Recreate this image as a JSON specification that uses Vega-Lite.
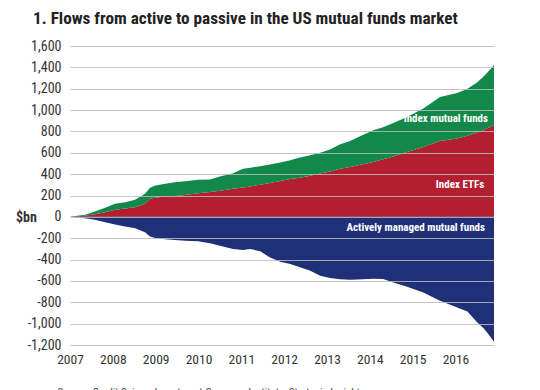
{
  "$schema": "https://vega.github.io/schema/vega-lite/v6.json",
  "width": 424,
  "height": 299,
  "autosize": "none",
  "padding": {"left": 70, "top": 46, "right": 46, "bottom": 45},
  "background": "white",
  "config": {"view": {"stroke": null}},
  "title": {
    "text": "1. Flows from active to passive in the US mutual funds market",
    "anchor": "start",
    "frame": "group",
    "dx": -37,
    "offset": -6,
    "baseline": "bottom",
    "font": "'Roboto Condensed', 'Liberation Sans Narrow', Roboto, sans-serif",
    "fontSize": 17.2,
    "fontWeight": "bold",
    "color": "#222222"
  },
  "layer": [
    {
      "data": {
        "values": [
          {"year": 2007.00, "series": "Index ETFs", "value": 0},
          {"year": 2007.35, "series": "Index ETFs", "value": 10},
          {"year": 2007.58, "series": "Index ETFs", "value": 24},
          {"year": 2007.82, "series": "Index ETFs", "value": 43},
          {"year": 2008.05, "series": "Index ETFs", "value": 66},
          {"year": 2008.29, "series": "Index ETFs", "value": 78},
          {"year": 2008.52, "series": "Index ETFs", "value": 90},
          {"year": 2008.75, "series": "Index ETFs", "value": 122},
          {"year": 2008.87, "series": "Index ETFs", "value": 170},
          {"year": 2008.99, "series": "Index ETFs", "value": 180},
          {"year": 2009.22, "series": "Index ETFs", "value": 190},
          {"year": 2009.45, "series": "Index ETFs", "value": 196},
          {"year": 2009.69, "series": "Index ETFs", "value": 205},
          {"year": 2009.99, "series": "Index ETFs", "value": 222},
          {"year": 2010.27, "series": "Index ETFs", "value": 232},
          {"year": 2010.50, "series": "Index ETFs", "value": 245},
          {"year": 2010.81, "series": "Index ETFs", "value": 263},
          {"year": 2011.04, "series": "Index ETFs", "value": 275},
          {"year": 2011.21, "series": "Index ETFs", "value": 285},
          {"year": 2011.44, "series": "Index ETFs", "value": 300},
          {"year": 2011.67, "series": "Index ETFs", "value": 318},
          {"year": 2011.91, "series": "Index ETFs", "value": 335},
          {"year": 2012.14, "series": "Index ETFs", "value": 355},
          {"year": 2012.37, "series": "Index ETFs", "value": 366},
          {"year": 2012.61, "series": "Index ETFs", "value": 385},
          {"year": 2012.84, "series": "Index ETFs", "value": 405},
          {"year": 2013.07, "series": "Index ETFs", "value": 425},
          {"year": 2013.31, "series": "Index ETFs", "value": 451},
          {"year": 2013.54, "series": "Index ETFs", "value": 466},
          {"year": 2013.71, "series": "Index ETFs", "value": 482},
          {"year": 2014.08, "series": "Index ETFs", "value": 513},
          {"year": 2014.31, "series": "Index ETFs", "value": 540},
          {"year": 2014.55, "series": "Index ETFs", "value": 565},
          {"year": 2014.87, "series": "Index ETFs", "value": 607},
          {"year": 2015.25, "series": "Index ETFs", "value": 654},
          {"year": 2015.64, "series": "Index ETFs", "value": 710},
          {"year": 2016.04, "series": "Index ETFs", "value": 733},
          {"year": 2016.28, "series": "Index ETFs", "value": 760},
          {"year": 2016.51, "series": "Index ETFs", "value": 790},
          {"year": 2016.65, "series": "Index ETFs", "value": 811},
          {"year": 2016.74, "series": "Index ETFs", "value": 830},
          {"year": 2016.90, "series": "Index ETFs", "value": 857},
          {"year": 2007.00, "series": "Index mutual funds", "value": 0},
          {"year": 2007.35, "series": "Index mutual funds", "value": 9},
          {"year": 2007.58, "series": "Index mutual funds", "value": 26},
          {"year": 2007.82, "series": "Index mutual funds", "value": 42},
          {"year": 2008.05, "series": "Index mutual funds", "value": 56},
          {"year": 2008.29, "series": "Index mutual funds", "value": 59},
          {"year": 2008.52, "series": "Index mutual funds", "value": 70},
          {"year": 2008.75, "series": "Index mutual funds", "value": 94},
          {"year": 2008.87, "series": "Index mutual funds", "value": 102},
          {"year": 2008.99, "series": "Index mutual funds", "value": 114},
          {"year": 2009.22, "series": "Index mutual funds", "value": 120},
          {"year": 2009.45, "series": "Index mutual funds", "value": 129},
          {"year": 2009.69, "series": "Index mutual funds", "value": 129},
          {"year": 2009.99, "series": "Index mutual funds", "value": 125},
          {"year": 2010.27, "series": "Index mutual funds", "value": 118},
          {"year": 2010.50, "series": "Index mutual funds", "value": 133},
          {"year": 2010.81, "series": "Index mutual funds", "value": 146},
          {"year": 2011.04, "series": "Index mutual funds", "value": 175},
          {"year": 2011.21, "series": "Index mutual funds", "value": 175},
          {"year": 2011.44, "series": "Index mutual funds", "value": 175},
          {"year": 2011.67, "series": "Index mutual funds", "value": 172},
          {"year": 2011.91, "series": "Index mutual funds", "value": 175},
          {"year": 2012.14, "series": "Index mutual funds", "value": 175},
          {"year": 2012.37, "series": "Index mutual funds", "value": 189},
          {"year": 2012.61, "series": "Index mutual funds", "value": 191},
          {"year": 2012.84, "series": "Index mutual funds", "value": 195},
          {"year": 2013.07, "series": "Index mutual funds", "value": 205},
          {"year": 2013.31, "series": "Index mutual funds", "value": 229},
          {"year": 2013.54, "series": "Index mutual funds", "value": 244},
          {"year": 2013.71, "series": "Index mutual funds", "value": 260},
          {"year": 2014.08, "series": "Index mutual funds", "value": 297},
          {"year": 2014.31, "series": "Index mutual funds", "value": 300},
          {"year": 2014.55, "series": "Index mutual funds", "value": 315},
          {"year": 2014.87, "series": "Index mutual funds", "value": 328},
          {"year": 2015.25, "series": "Index mutual funds", "value": 360},
          {"year": 2015.64, "series": "Index mutual funds", "value": 413},
          {"year": 2016.04, "series": "Index mutual funds", "value": 428},
          {"year": 2016.28, "series": "Index mutual funds", "value": 440},
          {"year": 2016.51, "series": "Index mutual funds", "value": 470},
          {"year": 2016.65, "series": "Index mutual funds", "value": 500},
          {"year": 2016.74, "series": "Index mutual funds", "value": 520},
          {"year": 2016.90, "series": "Index mutual funds", "value": 564},
          {"year": 2007.00, "series": "Actively managed mutual funds", "value": 0},
          {"year": 2007.35, "series": "Actively managed mutual funds", "value": -13},
          {"year": 2007.58, "series": "Actively managed mutual funds", "value": -28},
          {"year": 2007.82, "series": "Actively managed mutual funds", "value": -51},
          {"year": 2008.05, "series": "Actively managed mutual funds", "value": -72},
          {"year": 2008.29, "series": "Actively managed mutual funds", "value": -91},
          {"year": 2008.52, "series": "Actively managed mutual funds", "value": -107},
          {"year": 2008.75, "series": "Actively managed mutual funds", "value": -145},
          {"year": 2008.87, "series": "Actively managed mutual funds", "value": -185},
          {"year": 2008.99, "series": "Actively managed mutual funds", "value": -197},
          {"year": 2009.22, "series": "Actively managed mutual funds", "value": -210},
          {"year": 2009.45, "series": "Actively managed mutual funds", "value": -217},
          {"year": 2009.69, "series": "Actively managed mutual funds", "value": -224},
          {"year": 2009.99, "series": "Actively managed mutual funds", "value": -229},
          {"year": 2010.27, "series": "Actively managed mutual funds", "value": -248},
          {"year": 2010.50, "series": "Actively managed mutual funds", "value": -270},
          {"year": 2010.81, "series": "Actively managed mutual funds", "value": -301},
          {"year": 2011.04, "series": "Actively managed mutual funds", "value": -310},
          {"year": 2011.21, "series": "Actively managed mutual funds", "value": -301},
          {"year": 2011.44, "series": "Actively managed mutual funds", "value": -323},
          {"year": 2011.67, "series": "Actively managed mutual funds", "value": -380},
          {"year": 2011.91, "series": "Actively managed mutual funds", "value": -420},
          {"year": 2012.14, "series": "Actively managed mutual funds", "value": -441},
          {"year": 2012.37, "series": "Actively managed mutual funds", "value": -473},
          {"year": 2012.61, "series": "Actively managed mutual funds", "value": -504},
          {"year": 2012.84, "series": "Actively managed mutual funds", "value": -551},
          {"year": 2013.07, "series": "Actively managed mutual funds", "value": -573},
          {"year": 2013.31, "series": "Actively managed mutual funds", "value": -585},
          {"year": 2013.54, "series": "Actively managed mutual funds", "value": -589},
          {"year": 2013.71, "series": "Actively managed mutual funds", "value": -586},
          {"year": 2014.08, "series": "Actively managed mutual funds", "value": -580},
          {"year": 2014.31, "series": "Actively managed mutual funds", "value": -582},
          {"year": 2014.55, "series": "Actively managed mutual funds", "value": -614},
          {"year": 2014.87, "series": "Actively managed mutual funds", "value": -654},
          {"year": 2015.25, "series": "Actively managed mutual funds", "value": -708},
          {"year": 2015.64, "series": "Actively managed mutual funds", "value": -786},
          {"year": 2016.04, "series": "Actively managed mutual funds", "value": -849},
          {"year": 2016.28, "series": "Actively managed mutual funds", "value": -886},
          {"year": 2016.51, "series": "Actively managed mutual funds", "value": -990},
          {"year": 2016.65, "series": "Actively managed mutual funds", "value": -1040},
          {"year": 2016.74, "series": "Actively managed mutual funds", "value": -1084},
          {"year": 2016.90, "series": "Actively managed mutual funds", "value": -1170}
        ]
      },
      "mark": {"type": "area", "interpolate": "linear"},
      "encoding": {
        "x": {
          "field": "year",
          "type": "quantitative",
          "scale": {"domain": [2007, 2016.9], "nice": false, "zero": false},
          "axis": {
            "values": [2007, 2008, 2009, 2010, 2011, 2012, 2013, 2014, 2015, 2016],
            "tickCount": 20,
            "format": "d",
            "labelOverlap": false,
            "labelFlush": false,
            "domain": false,
            "ticks": false,
            "grid": false,
            "labelPadding": 7,
            "labelFont": "'Roboto Condensed', 'Liberation Sans Narrow', Roboto, sans-serif",
            "labelFontSize": 13.5,
            "labelColor": "#333333",
            "title": "Source: Credit Suisse, Investment Company Institute, Strategic Insight",
            "titleAnchor": "start",
            "titleAlign": "left",
            "titleBaseline": "top",
            "titleX": -13,
            "titleY": 41,
            "titleFont": "'Roboto Condensed', 'Liberation Sans Narrow', Roboto, sans-serif",
            "titleFontSize": 11,
            "titleFontWeight": "normal",
            "titleColor": "#444444"
          }
        },
        "y": {
          "field": "value",
          "type": "quantitative",
          "stack": "zero",
          "scale": {"domain": [-1200, 1600], "nice": false},
          "axis": {
            "values": [-1200, -1000, -800, -600, -400, -200, 0, 200, 400, 600, 800, 1000, 1200, 1400, 1600],
            "tickCount": 20,
            "format": ",d",
            "labelExpr": "replace(datum.label, '\u2212', '-')",
            "labelOverlap": false,
            "labelFlush": false,
            "domain": false,
            "ticks": false,
            "grid": true,
            "gridColor": "#bbbbbb",
            "gridOpacity": 0.85,
            "gridWidth": 1,
            "zindex": 1,
            "labelPadding": 9,
            "labelFont": "'Roboto Condensed', 'Liberation Sans Narrow', Roboto, sans-serif",
            "labelFontSize": 14,
            "labelColor": "#333333",
            "title": "$bn",
            "titleAngle": 0,
            "titleAlign": "center",
            "titleBaseline": "middle",
            "titleX": -44,
            "titleY": 171,
            "titleFont": "'Roboto Condensed', 'Liberation Sans Narrow', Roboto, sans-serif",
            "titleFontSize": 14,
            "titleFontWeight": "bold",
            "titleColor": "#333333"
          }
        },
        "color": {
          "field": "series",
          "type": "nominal",
          "scale": {
            "domain": ["Index ETFs", "Index mutual funds", "Actively managed mutual funds"],
            "range": ["#b41f30", "#12894a", "#1f2f78"]
          },
          "legend": null
        },
        "order": {"field": "series", "sort": "ascending"}
      }
    },
    {
      "data": {
        "values": [
          {"lx": 2016.76, "ly": 912, "label": "Index mutual funds"},
          {"lx": 2016.67, "ly": 294, "label": "Index ETFs"},
          {"lx": 2016.69, "ly": -109, "label": "Actively managed mutual funds"}
        ]
      },
      "mark": {
        "type": "text",
        "align": "right",
        "baseline": "middle",
        "color": "white",
        "font": "'Roboto Condensed', 'Liberation Sans Narrow', Roboto, sans-serif",
        "fontSize": 11,
        "fontWeight": "bold"
      },
      "encoding": {
        "x": {"field": "lx", "type": "quantitative"},
        "y": {"field": "ly", "type": "quantitative"},
        "text": {"field": "label", "type": "nominal"}
      }
    }
  ]
}
